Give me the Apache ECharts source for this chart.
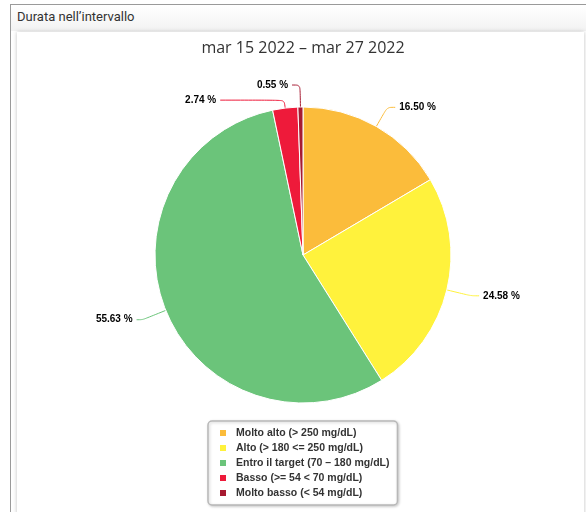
<!DOCTYPE html>
<html>
<head>
<meta charset="utf-8">
<script src="https://cdn.jsdelivr.net/npm/echarts@6/dist/echarts.min.js"></script>
<style>
  html, body { margin: 0; padding: 0; background: #fff; }
  body { width: 586px; height: 512px; position: relative; overflow: hidden; }
  .panel { position: absolute; left: 10px; top: 4px; width: 580px; height: 520px;
           border-top: 1px solid #9a9a9a; border-left: 1px solid #9a9a9a; }
  .head { position: absolute; left: 0; top: 0; right: 0; height: 26px;
          background: linear-gradient(to bottom, #ffffff, #f2f2f2);
          font-family: Roboto, sans-serif; font-size: 13px; color: #333;
          padding-left: 6px; line-height: 23px; }
  .card { position: absolute; left: 6px; top: 27px; width: 567px; height: 500px;
          background: #fff; box-shadow: 0 0 4px rgba(0,0,0,0.25); }
  #main { position: absolute; left: 0; top: 0; width: 586px; height: 512px; }
</style>
</head>
<body>
<div class="panel">
  <div class="head">Durata nell’intervallo</div>
  <div class="card"></div>
</div>
<div id="main"></div>
<script>
// fasce glicemiche (dal grafico)
var categories = [
  'Molto alto (> 250 mg/dL)',
  'Alto (> 180 <= 250 mg/dL)',
  'Entro il target (70 – 180 mg/dL)',
  'Basso (>= 54 < 70 mg/dL)',
  'Molto basso (< 54 mg/dL)'
];
var percentuali = [16.50, 24.58, 55.63, 2.74, 0.55];
var colori = ['#fbbc3b', '#fff23c', '#6bc47a', '#ee1a3a', '#a61a31'];
// lunghezze delle linee di etichetta
var lineLen = [22, 25, 25, 8, 22];
var lineLen2 = [8, 8, 6, 64, 8];

var myChart = echarts.init(document.getElementById('main'));

var dati = categories.map(function (c, i) {
  return {
    name: c,
    value: percentuali[i],
    itemStyle: { color: colori[i] },
    labelLine: { length: lineLen[i], length2: lineLen2[i], lineStyle: { color: colori[i] } }
  };
});

myChart.setOption({
  animation: false,
  title: {
    text: 'mar 15 2022 – mar 27 2022',
    left: 298,
    textAlign: 'center',
    top: 35,
    textStyle: { fontFamily: 'Open Sans', fontSize: 16, fontWeight: 'normal', color: '#333' }
  },
  legend: {
    orient: 'vertical',
    left: 208,
    top: 421,
    data: categories,
    icon: 'rect',
    itemWidth: 8,
    itemHeight: 8,
    itemGap: 3,
    padding: [6, 8, 6, 10],
    borderColor: '#b8b8b8',
    borderWidth: 1.5,
    borderRadius: 4,
    shadowBlur: 3,
    shadowColor: 'rgba(0,0,0,0.2)',
    shadowOffsetX: 1,
    shadowOffsetY: 1,
    backgroundColor: '#fff',
    textStyle: { fontFamily: 'Liberation Sans', fontSize: 10.5, fontWeight: 'bold', color: '#333',
                 lineHeight: 12, padding: [0, 0, 0, 4] }
  },
  series: [{
    type: 'pie',
    center: [303, 255],
    radius: 148,
    startAngle: 90,
    clockwise: true,
    avoidLabelOverlap: false,
    itemStyle: { borderColor: '#fff', borderWidth: 1 },
    label: {
      formatter: function (p) { return p.value.toFixed(2) + ' %'; },
      fontFamily: 'Liberation Sans',
      fontSize: 10,
      fontWeight: 'bold',
      color: '#000',
      distanceToLabelLine: 4
    },
    labelLine: { smooth: 0.3, lineStyle: { width: 1 } },
    emphasis: { disabled: true },
    data: dati
  }]
});
</script>
</body>
</html>
